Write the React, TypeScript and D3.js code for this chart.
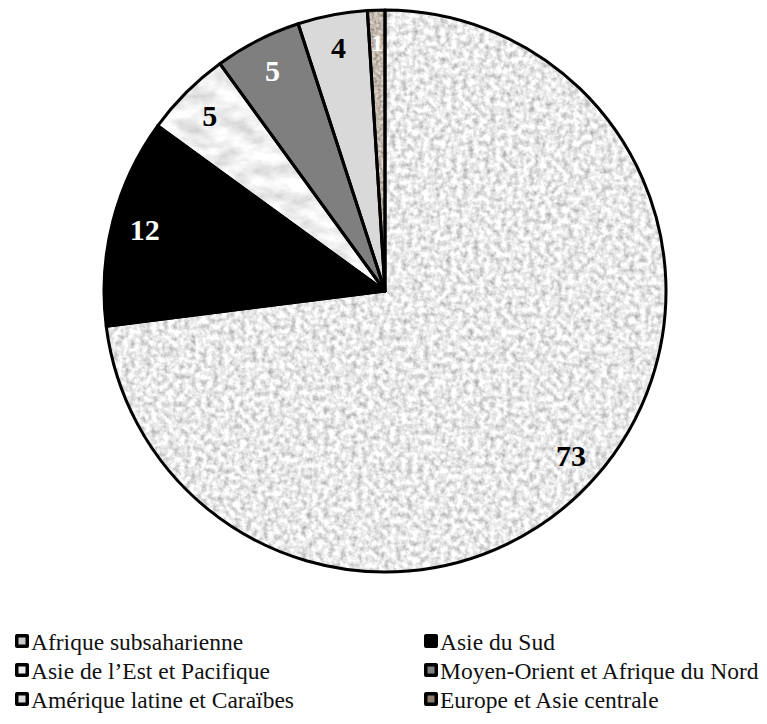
import React from "react";
import * as d3 from "d3";

const categories = [
  "Afrique subsaharienne",
  "Asie du Sud",
  "Asie de l\u2019Est et Pacifique",
  "Moyen-Orient et Afrique du Nord",
  "Amérique latine et Caraïbes",
  "Europe et Asie centrale",
];
const values = [73, 12, 5, 5, 4, 1];
const labels = ["73", "12", "5", "5", "4", "1"];
const filters = ["speckle", null, "marble", null, null, "brown"];
const baseColors = ["#c6c6c6", "#000000", "#e2e2e2", "#7f7f7f", "#d9d9d9", "#8c7c6c"];
const labelColors = ["#000", "#fff", "#000", "#fff", "#000", "#fff"];
const legendInner = ["#c8c8c8", "#000000", "#eeeeee", "#808080", "#dcdcdc", "#8c7c6c"];

export default function App() {
  const W = 767, H = 724;
  const cx = 385, cy = 291, r = 281;
  const pie = d3.pie<number>().sort(null).value((d) => d)(values);
  const arc = d3.arc<d3.PieArcDatum<number>>().innerRadius(0).outerRadius(r);
  const labelArc = d3.arc<d3.PieArcDatum<number>>().innerRadius(248).outerRadius(248);

  const legendX = [15, 424];
  const legendY = [650, 679, 708];

  return (
    <svg width={W} height={H} style={{ position: "absolute", left: 0, top: 0, background: "#fff" }}>
      <defs>
        <filter id="f-speckle" x="0" y="0" width="1" height="1">
          <feTurbulence type="fractalNoise" baseFrequency="0.18" numOctaves="3" seed="3" result="n" />
          <feColorMatrix in="n" type="matrix"
            values="1.05 0 0 0 0.29  1.05 0 0 0 0.29  1.05 0 0 0 0.29  0 0 0 0 1" result="g" />
          <feComposite in="g" in2="SourceGraphic" operator="in" />
        </filter>
        <filter id="f-marble" x="0" y="0" width="1" height="1">
          <feTurbulence type="fractalNoise" baseFrequency="0.04 0.07" numOctaves="4" seed="7" result="n" />
          <feColorMatrix in="n" type="matrix"
            values="0.7 0 0 0 0.52  0.7 0 0 0 0.52  0.7 0 0 0 0.52  0 0 0 0 1" result="g" />
          <feComposite in="g" in2="SourceGraphic" operator="in" />
        </filter>
        <filter id="f-brown" x="0" y="0" width="1" height="1">
          <feTurbulence type="fractalNoise" baseFrequency="0.3" numOctaves="2" seed="5" result="n" />
          <feColorMatrix in="n" type="matrix"
            values="0.8 0 0 0 0.15  0.8 0 0 0 0.09  0.8 0 0 0 0.03  0 0 0 0 1" result="g" />
          <feComposite in="g" in2="SourceGraphic" operator="in" />
        </filter>
      </defs>
      <g transform={`translate(${cx},${cy})`}>
        {pie.map((p, i) => (
          <path key={"f" + i} d={arc(p) || ""} fill={baseColors[i]}
            filter={filters[i] ? `url(#f-${filters[i]})` : undefined} />
        ))}
        {pie.map((p, i) => (
          <path key={"s" + i} d={arc(p) || ""} fill="none" stroke="#000" strokeWidth={3} strokeLinejoin="round" />
        ))}
        {pie.map((p, i) => {
          const [lx, ly] = labelArc.centroid(p);
          return (
            <text key={"l" + i} x={lx} y={ly} textAnchor="middle" dominantBaseline="central"
              fontFamily="'Liberation Serif', 'Times New Roman', serif" fontWeight="bold"
              fontSize={i === 5 ? 24 : 30}
              fill={labelColors[i]}>{labels[i]}</text>
          );
        })}
      </g>
      <g>
        {categories.map((c, i) => {
          const col = i % 2, row = Math.floor(i / 2);
          const x = legendX[col], y = legendY[row];
          return (
            <g key={"lg" + i}>
              <rect x={x} y={y - 16} width={14} height={14} rx={2} fill="#000" />
              <rect x={x + 3.5} y={y - 12.5} width={7} height={7} fill={legendInner[i]} />
              <text x={x + 16} y={y} fontFamily="'Liberation Serif', 'Times New Roman', serif" fontSize={23.5}
                fill="#111">{c}</text>
            </g>
          );
        })}
      </g>
    </svg>
  );
}
